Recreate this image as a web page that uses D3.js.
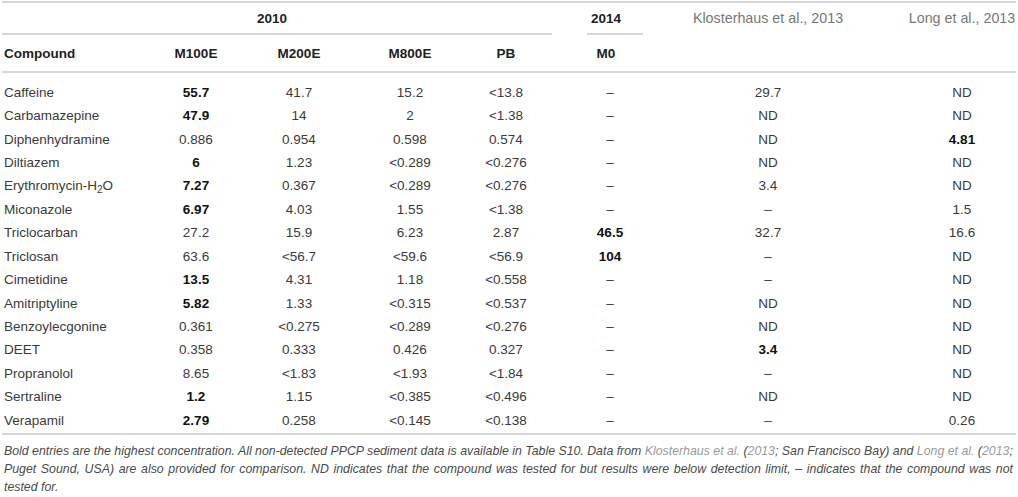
<!DOCTYPE html>
<html>
<head>
<meta charset="utf-8">
<script src="https://cdn.jsdelivr.net/npm/d3@7"></script>
<style>
  body { margin: 0; background: #fff; }
  svg { display: block; font-family: "Liberation Sans", Arial, Helvetica, sans-serif; }
  .rule { stroke: #c9c9c9; stroke-width: 1.5; }
  .cell { font-size: 13.5px; fill: #3a3a3a; }
  .cell.hi { font-weight: bold; fill: #111; }
  .head { font-size: 13.5px; font-weight: bold; fill: #222; }
  .ref { font-size: 14.3px; fill: #777; }
  .note { font-size: 12px; font-style: italic; fill: #4a4a4a; }
  .note .lnk { fill: #9a9a9a; }
</style>
</head>
<body>
<svg width="1018" height="497"></svg>
<script>
// rows of the table
var compounds = ["Caffeine", "Carbamazepine", "Diphenhydramine", "Diltiazem", "Erythromycin-H2O",
  "Miconazole", "Triclocarban", "Triclosan", "Cimetidine", "Amitriptyline", "Benzoylecgonine",
  "DEET", "Propranolol", "Sertraline", "Verapamil"];

// 2010 sites
var m100e = ["55.7", "47.9", "0.886", "6", "7.27", "6.97", "27.2", "63.6", "13.5", "5.82", "0.361", "0.358", "8.65", "1.2", "2.79"];
var m200e = ["41.7", "14", "0.954", "1.23", "0.367", "4.03", "15.9", "<56.7", "4.31", "1.33", "<0.275", "0.333", "<1.83", "1.15", "0.258"];
var m800e = ["15.2", "2", "0.598", "<0.289", "<0.289", "1.55", "6.23", "<59.6", "1.18", "<0.315", "<0.289", "0.426", "<1.93", "<0.385", "<0.145"];
var pb    = ["<13.8", "<1.38", "0.574", "<0.276", "<0.276", "<1.38", "2.87", "<56.9", "<0.558", "<0.537", "<0.276", "0.327", "<1.84", "<0.496", "<0.138"];
// 2014
var m0    = ["–", "–", "–", "–", "–", "–", "46.5", "104", "–", "–", "–", "–", "–", "–", "–"];
// literature
var klosterhaus = ["29.7", "ND", "ND", "ND", "3.4", "–", "32.7", "–", "–", "ND", "ND", "3.4", "–", "ND", "–"];
var longEtAl    = ["ND", "ND", "4.81", "ND", "ND", "1.5", "16.6", "ND", "ND", "ND", "ND", "ND", "ND", "ND", "0.26"];

// bold = highest concentration [compound, column]
var highest = [
  ["Caffeine", "M100E"], ["Carbamazepine", "M100E"], ["Diltiazem", "M100E"], ["Erythromycin-H2O", "M100E"],
  ["Miconazole", "M100E"], ["Cimetidine", "M100E"], ["Amitriptyline", "M100E"], ["Sertraline", "M100E"],
  ["Verapamil", "M100E"], ["Triclocarban", "M0"], ["Triclosan", "M0"], ["DEET", "Klosterhaus"],
  ["Diphenhydramine", "Long"]
];

var columns = ["M100E", "M200E", "M800E", "PB", "M0", "Klosterhaus", "Long"];
var columnValues = [m100e, m200e, m800e, pb, m0, klosterhaus, longEtAl];

var noteLines = [
  [["Bold entries are the highest concentration. All non-detected PPCP sediment data is available in Table S10. Data from ", ""],
   ["Klosterhaus et al.", "lnk"], [" (", ""], ["2013", "lnk"], ["; San Francisco Bay) and ", ""],
   ["Long et al.", "lnk"], [" (", ""], ["2013", "lnk"], [";", ""]],
  [["Puget Sound, USA) are also provided for comparison. ND indicates that the compound was tested for but results were below detection limit, – indicates that the compound was not", ""]],
  [["tested for.", ""]]
];

var svg = d3.select("svg"),
  width = +svg.attr("width");

// column centres
var x = d3.scaleOrdinal()
  .domain(columns)
  .range([196, 299, 410, 506, 610, 768, 962]);

var y = d3.scalePoint()
  .domain(compounds)
  .range([92, 420]);

var hiSet = new Set(highest.map(function(h) { return h[0] + "|" + h[1]; }));

// rules
var rules = [
  { x1: 2, x2: width - 2, y: 2 },
  { x1: 2, x2: 552, y: 34 },
  { x1: 587, x2: 643, y: 34 },
  { x1: 2, x2: width - 2, y: 72 },
  { x1: 2, x2: width - 2, y: 434 }
];
svg.append("g").selectAll("line")
  .data(rules)
  .enter().append("line")
  .attr("class", "rule")
  .attr("x1", function(d) { return d.x1; })
  .attr("x2", function(d) { return d.x2; })
  .attr("y1", function(d) { return d.y; })
  .attr("y2", function(d) { return d.y; });

// group headers
var head = svg.append("g");
head.append("text").attr("class", "head").attr("x", 272).attr("y", 18).attr("dy", "0.35em")
  .attr("text-anchor", "middle").text("2010");
head.append("text").attr("class", "head").attr("x", 606).attr("y", 18).attr("dy", "0.35em")
  .attr("text-anchor", "middle").text("2014");
head.append("text").attr("class", "ref").attr("x", x("Klosterhaus")).attr("y", 18).attr("dy", "0.35em")
  .attr("text-anchor", "middle").text("Klosterhaus et al., 2013");
head.append("text").attr("class", "ref").attr("x", x("Long")).attr("y", 18).attr("dy", "0.35em")
  .attr("text-anchor", "middle").text("Long et al., 2013");

head.append("text").attr("class", "head").attr("x", 4).attr("y", 53).attr("dy", "0.35em").text("Compound");
head.selectAll(".colhead")
  .data(columns.slice(0, 5))
  .enter().append("text")
  .attr("class", "head colhead")
  .attr("x", function(d) { return d === "M0" ? 606 : x(d); })
  .attr("y", 53).attr("dy", "0.35em")
  .attr("text-anchor", "middle")
  .text(function(d) { return d; });

// compound names
var names = svg.append("g").selectAll("text")
  .data(compounds)
  .enter().append("text")
  .attr("class", "cell")
  .attr("x", 4)
  .attr("y", function(d) { return y(d); })
  .attr("dy", "0.35em");
names.each(function(d) {
  var t = d3.select(this);
  if (d === "Erythromycin-H2O") {
    t.append("tspan").text("Erythromycin-H");
    t.append("tspan").attr("font-size", "10px").attr("dy", "3").text("2");
    t.append("tspan").attr("dy", "-3").text("O");
  } else {
    t.text(d);
  }
});

// values
var cells = [];
columns.forEach(function(c, ci) {
  columnValues[ci].forEach(function(v, ri) {
    cells.push({ col: c, row: compounds[ri], value: v });
  });
});

svg.append("g").selectAll("text")
  .data(cells)
  .enter().append("text")
  .attr("class", function(d) { return hiSet.has(d.row + "|" + d.col) ? "cell hi" : "cell"; })
  .attr("x", function(d) { return x(d.col); })
  .attr("y", function(d) { return y(d.row); })
  .attr("dy", "0.35em")
  .attr("text-anchor", "middle")
  .text(function(d) { return d.value; });

// footnote
var note = svg.append("g");
var noteY = [451, 469, 487];
var noteText = noteLines.map(function(parts, i) {
  var t = note.append("text")
    .attr("class", "note")
    .attr("x", 4)
    .attr("y", noteY[i])
    .attr("dy", "0.35em");
  parts.forEach(function(p) {
    t.append("tspan").attr("class", p[1]).text(p[0]);
  });
  return t;
});

// size the footnote so the first line runs to the right edge, then justify line 2
var lineWidth = 1009;
var w0 = noteText[0].node().getComputedTextLength();
var fs = 12 * lineWidth / w0;
note.selectAll("text").style("font-size", fs + "px");

var line2 = noteText[1];
var gaps = noteLines[1][0][0].split(" ").length - 1;
var extra = lineWidth - line2.node().getComputedTextLength();
if (extra > 0 && gaps > 0) line2.style("word-spacing", (extra / gaps) + "px");
</script>
</body>
</html>
